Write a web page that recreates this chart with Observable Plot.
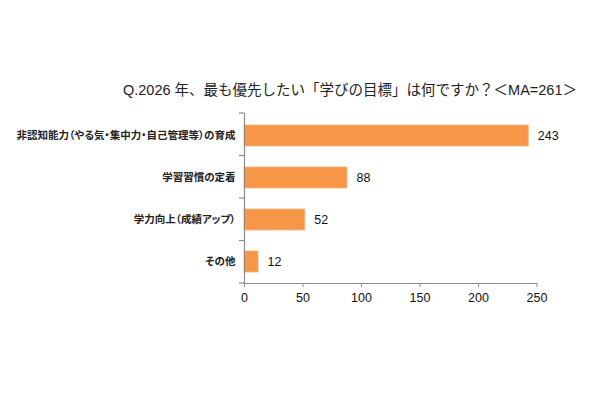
<!DOCTYPE html>
<html>
<head>
<meta charset="utf-8">
<script src="https://cdn.jsdelivr.net/npm/d3@7"></script>
<script src="https://cdn.jsdelivr.net/npm/@observablehq/plot@0.6"></script>
<style>
  body { margin: 0; background: #fff; }
  #wrap { width: 600px; height: 400px; overflow: hidden; }
  #title {
    height: 100px; box-sizing: border-box; padding-top: 82px; padding-left: 123px;
    font-family: "Liberation Sans", Arial, "Noto Sans CJK JP", sans-serif;
    font-size: 14.5px; line-height: 16px; color: #222; white-space: nowrap;
  }
  g[aria-label="y-axis tick label"] text { font-feature-settings: "palt"; }
</style>
</head>
<body>
<div id="wrap">
  <div id="title">Q.2026 年、最も優先したい「学びの目標」は何ですか？＜MA=261＞</div>
  <div id="chart"></div>
</div>
<script>
const categories = [
  "非認知能力（やる気・集中力・自己管理等）の育成",
  "学習習慣の定着",
  "学力向上（成績アップ）",
  "その他"
];
const values = [243, 88, 52, 12];
const xTicks = [0, 50, 100, 150, 200, 250];

const data = categories.map((c, i) => ({category: c, value: values[i]}));

const axisColor = "#8c8c8c";

const boundaryTicks = (index, scales, vals, dims) => {
  const g = d3.create("svg:g");
  const n = categories.length;
  const top = dims.marginTop, bottom = dims.height - dims.marginBottom;
  const x0 = scales.x(0);
  for (let i = 0; i <= n; i++) {
    const yy = top + (i * (bottom - top)) / n;
    g.append("line")
      .attr("x1", x0 - 5).attr("x2", x0)
      .attr("y1", yy).attr("y2", yy)
      .attr("stroke", axisColor).attr("stroke-width", 1.2);
  }
  return g.node();
};

const chart = Plot.plot({
  width: 600,
  height: 300,
  marginTop: 13,
  marginBottom: 117,
  marginLeft: 244,
  marginRight: 63.5,
  style: {fontFamily: "\"Liberation Sans\", Arial, \"Noto Sans CJK JP\", sans-serif", color: "#222", background: "#fff"},
  x: {domain: [0, 250], ticks: xTicks},
  y: {domain: categories, paddingInner: 0.5, paddingOuter: 0.25},
  marks: [
    Plot.barX(data, {x: "value", y: "category", fill: "#F79646", stroke: "#FBB57C", strokeWidth: 0.8}),
    Plot.text(data, {x: "value", y: "category", text: d => String(d.value), dx: 9, textAnchor: "start", fontSize: 12.5, fill: "#111"}),
    Plot.ruleX([0], {stroke: axisColor, strokeWidth: 1.2}),
    Plot.frame({anchor: "bottom", stroke: axisColor, strokeWidth: 1.2}),
    boundaryTicks,
    Plot.axisX({ticks: xTicks, tickSize: 4, tickPadding: 6, fontSize: 12.5, stroke: axisColor, color: "#111", label: null}),
    Plot.axisY({tickSize: 0, tickPadding: 9, fontSize: 10.5, fontWeight: "bold", label: null,
      fontFamily: "\"Noto Sans CJK JP\", sans-serif", fill: "#222"})
  ]
});
document.getElementById("chart").appendChild(chart);
</script>
</body>
</html>
